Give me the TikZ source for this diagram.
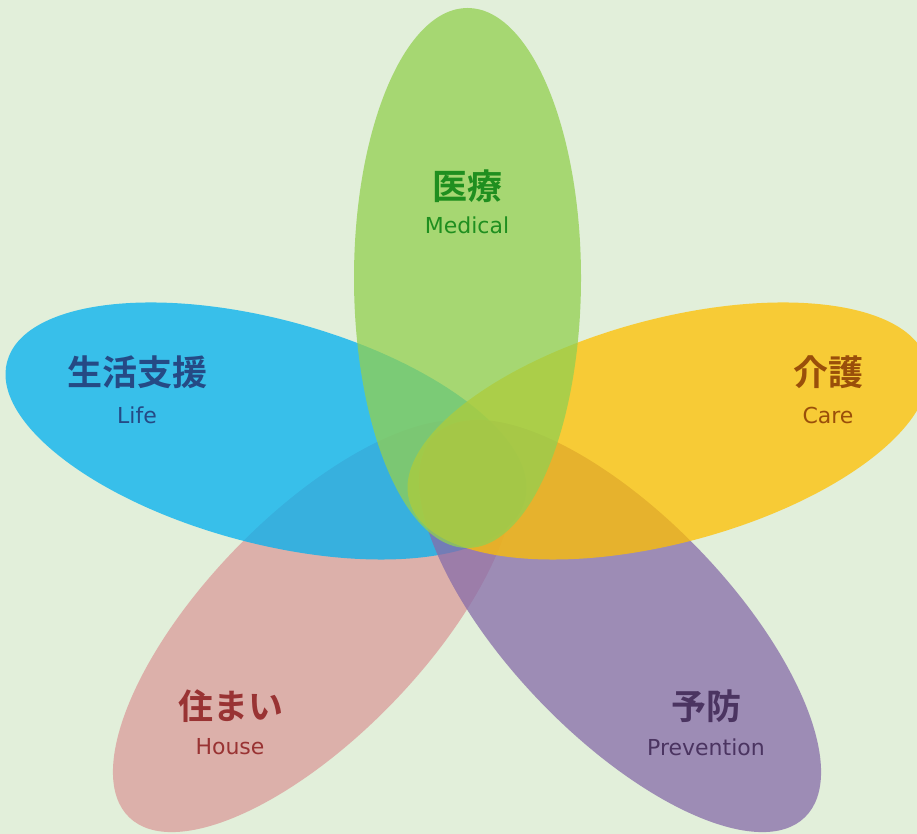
\documentclass[tikz,border=0pt]{standalone}
\usepackage{fontspec}
\usepackage{xcolor}
\usepackage{tikz}

\newfontfamily\jpfont{Noto Sans CJK JP}[BoldFont={Noto Sans CJK JP Bold}]
\newfontfamily\enfont{DejaVu Sans}

\definecolor{bgcol}{HTML}{E2EFDA}
\definecolor{medfill}{HTML}{92D050}
\definecolor{lifefill}{HTML}{00B0F0}
\definecolor{carefill}{HTML}{FFC000}
\definecolor{housefill}{HTML}{DB9C9A}
\definecolor{prevfill}{HTML}{876CA9}
\definecolor{medtext}{HTML}{1F8F1F}
\definecolor{lifetext}{HTML}{254A85}
\definecolor{caretext}{HTML}{9A4F0A}
\definecolor{housetext}{HTML}{993333}
\definecolor{prevtext}{HTML}{4B3461}

\tikzset{
  petal/.style={fill opacity=0.75},
  jlabel/.style={inner sep=0pt, font=\jpfont\bfseries\fontsize{35}{35}\selectfont},
  elabel/.style={inner sep=0pt, anchor=base, font=\enfont\fontsize{22}{22}\selectfont},
}

\begin{document}
\begin{tikzpicture}[x=1pt,y=1pt]
\useasboundingbox (0,0) rectangle (917,834);
\fill[bgcol] (0,0) rectangle (917,834);
\clip (0,0) rectangle (917,834);
%Petals
\fill[petal, housefill, shift={(314,208)}, rotate=46] (0,0) ellipse (266pt and 110pt);
\fill[petal, lifefill, shift={(266,403)}, rotate=-15] (0,0) ellipse (268pt and 112pt);
\fill[petal, prevfill, shift={(620,208)}, rotate=-46] (0,0) ellipse (266pt and 110pt);
\fill[petal, carefill, shift={(668,403)}, rotate=15] (0,0) ellipse (268pt and 112pt);
\fill[petal, medfill] (467.5,556) ellipse (113.5pt and 270pt);
%Text
\node[jlabel, text=medtext] (medjp) at (467,648) {医療};
\node[elabel, text=medtext] (meden) at (467,600) {Medical};
\node[jlabel, text=lifetext] (lifejp) at (137,462) {生活支援};
\node[elabel, text=lifetext] (lifeen) at (137,410) {Life};
\node[jlabel, text=caretext] (carejp) at (828,462) {介護};
\node[elabel, text=caretext] (careen) at (828,410) {Care};
\node[jlabel, text=housetext] (housejp) at (231,128) {住まい};
\node[elabel, text=housetext] (houseen) at (230,79) {House};
\node[jlabel, text=prevtext] (prevjp) at (706,128) {予防};
\node[elabel, text=prevtext] (preven) at (706,78) {Prevention};
\end{tikzpicture}
\end{document}
